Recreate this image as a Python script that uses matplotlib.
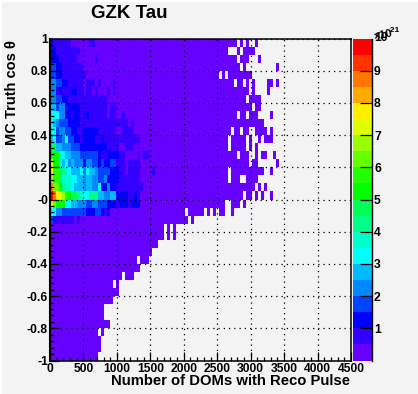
import numpy as np
import matplotlib
matplotlib.use("Agg")
import matplotlib.pyplot as plt
from matplotlib.colors import ListedColormap, BoundaryNorm
from matplotlib.patches import Rectangle
from matplotlib.ticker import MultipleLocator, FixedLocator, FixedFormatter

plt.rcParams['font.family'] = ['Liberation Sans', 'DejaVu Sans']
plt.rcParams['font.weight'] = 'bold'

TITLE = "GZK Tau"
XLABEL = "Number of DOMs with Reco Pulse"
YLABEL = "MC Truth cos \u03b8"
x_edges_range = (0, 4500)
y_edges_range = (-1, 1)
n_x = 100
n_y = 40
palette = ["#6600ff", "#3300ff", "#0000ff", "#0044ff", "#0088ff", "#00bbff", "#00ffff",
           "#00ffcc", "#00ff88", "#00ff55", "#00ff00", "#22ff00", "#66ff00", "#99ff00",
           "#ddff00", "#ffee00", "#ffaa00", "#ff7700", "#ff3300", "#ff0000"]
level_chars = "0123456789abcdefghij"
level_width = 0.5  # in units of 1e-21

# occupied bins of each row, from cos theta = 1 downward (start, end column, inclusive)
filled_runs = [
    [(0, 61), (63, 63), (65, 65), (68, 68)],
    [(0, 58), (62, 62), (64, 67)],
    [(0, 61), (63, 65), (69, 69)],
    [(0, 62), (64, 64), (75, 75)],
    [(0, 55), (57, 57), (59, 66)],
    [(0, 60), (62, 63), (65, 65), (67, 67), (72, 73), (75, 75)],
    [(0, 65), (67, 67), (72, 72)],
    [(0, 64), (66, 69)],
    [(0, 66), (68, 69)],
    [(0, 61), (63, 64), (66, 68), (73, 73)],
    [(0, 70)],
    [(0, 59), (61, 62), (64, 65), (68, 71), (73, 73)],
    [(0, 58), (60, 64), (66, 66), (69, 69), (71, 73)],
    [(0, 58), (60, 64), (66, 66), (68, 68)],
    [(0, 61), (63, 65), (68, 68), (70, 71), (74, 74)],
    [(0, 65), (67, 68), (75, 75)],
    [(0, 58), (60, 70), (73, 73)],
    [(0, 58), (60, 62), (65, 68)],
    [(0, 67), (69, 69), (71, 71)],
    [(0, 63), (65, 66), (68, 68), (70, 70), (73, 73)],
    [(0, 57), (60, 62), (64, 64)],
    [(0, 44), (46, 50), (52, 52), (54, 54), (56, 57), (60, 60)],
    [(0, 45), (47, 47)],
    [(0, 37), (39, 39), (41, 41)],
    [(0, 37), (39, 39), (41, 41)],
    [(0, 35)],
    [(0, 33)],
    [(0, 28), (30, 32)],
    [(0, 29)],
    [(0, 23), (25, 27)],
    [(0, 20), (22, 22)],
    [(0, 22)],
    [(0, 20)],
    [(0, 17)],
    [(0, 17)],
    [(0, 19)],
    [(0, 15), (17, 17)],
    [(0, 16)],
    [(0, 16)],
    [(0, 15)],
]

# colour level of the leftmost bins of each row (remaining bins are at level 0)
left_levels = [
    "2111111000000110",
    "2211111111",
    "2221111110000001",
    "33221111111",
    "332211111111",
    "4433221111101110100001",
    "4412111221101101000101",
    "4433221111111111111",
    "5534422222111111111011",
    "6664422122112111111011001",
    "6543332222" + "1111111111111" + "111" + "0" + "1",
    "6634433221" + "122222" + "111111" + "00" + "1111",
    "5633463322" + "12222" + "112" + "111111111111",
    "9955444333" + "222222222" + "1111" + "00" + "111",
    "aaa7655444" + "333333" + "2" + "11" + "2222" + "11" + "0" + "000" + "1" + "0" + "11",
    "eaa7564544" + "4" + "2" + "44" + "33" + "2" + "3" + "22" + "33" + "111" + "0" + "1111",
    "ebb9876555" + "64655" + "4" + "3333" + "222" + "11" + "0" + "1111" + "0000" + "1",
    "dbb9777665" + "545544" + "33" + "4" + "2222" + "1111111",
    "hcca877655" + "545544" + "6" + "22" + "4" + "22" + "111" + "111111",
    "jhfedba998" + "766888" + "55" + "44" + "55" + "2222" + "11" + "2" + "1",
    "ecaaa66554" + "443344" + "333" + "222" + "1" + "222" + "1" + "222",
    "66443333333322233" + "2" + "1" + "2",
    "31111111" + "01",
]

x_major = [0, 500, 1000, 1500, 2000, 2500, 3000, 3500, 4000, 4500]
y_major = [-1, -0.8, -0.6, -0.4, -0.2, 0, 0.2, 0.4, 0.6, 0.8, 1]
y_labels = ["-1", "-0.8", "-0.6", "-0.4", "-0.2", "-0", "0.2", "0.4", "0.6", "0.8", "1"]
z_ticks = [1, 2, 3, 4, 5, 6, 7, 8, 9]

W, H = 418, 394
BG = "#f3f3f3"
fig = plt.figure(figsize=(W / 100, H / 100), dpi=100, facecolor=BG)
fig.add_artist(Rectangle((0, 0), 2 / W, 1, transform=fig.transFigure, facecolor='white', edgecolor='none'))
fig.add_artist(Rectangle((0, 1 - 2 / H), 1, 2 / H, transform=fig.transFigure, facecolor='white', edgecolor='none'))


def rect(l, t, r, b):
    return [l / W, 1 - b / H, (r - l) / W, (b - t) / H]


ax = fig.add_axes(rect(50, 38.5, 351, 360.5), facecolor=BG)
cax = fig.add_axes(rect(353, 38.5, 372, 360.5), facecolor=BG)

# build the histogram from the values read above
grid = np.full((n_y, n_x), np.nan)
for r, runs in enumerate(filled_runs):
    for a, b in runs:
        grid[r, a:b + 1] = 0
for r, text in enumerate(left_levels):
    for c, ch in enumerate(text):
        if not np.isnan(grid[r, c]):
            grid[r, c] = level_chars.index(ch)
values = (grid + 0.5) * level_width

xe = np.linspace(*x_edges_range, n_x + 1)
ye = np.linspace(y_edges_range[1], y_edges_range[0], n_y + 1)
bounds = np.arange(len(palette) + 1) * level_width
cmap = ListedColormap(palette)
norm = BoundaryNorm(bounds, cmap.N)
ax.pcolormesh(xe, ye, np.ma.masked_invalid(values), cmap=cmap, norm=norm,
              antialiased=False, linewidth=0, zorder=1)

ax.set_xlim(*x_edges_range)
ax.set_ylim(*y_edges_range)
ax.set_axisbelow(False)
ax.xaxis.set_major_locator(FixedLocator(x_major))
ax.xaxis.set_minor_locator(MultipleLocator(100))
ax.yaxis.set_major_locator(FixedLocator(y_major))
ax.yaxis.set_major_formatter(FixedFormatter(y_labels))
ax.yaxis.set_minor_locator(MultipleLocator(0.04))
ax.grid(True, which='major', color='black', linewidth=0.9, linestyle=(0, (1, 3.2)), zorder=3)
ax.tick_params(which='major', direction='in', length=6.5, width=0.9, labelsize=8.7, pad=1.5,
               top=False, right=False)
ax.tick_params(which='minor', direction='in', length=3, width=0.9, top=False, right=False)
ax.tick_params(axis='x', which='major', pad=2)
for s in ax.spines.values():
    s.set_linewidth(1.1)
    s.set_zorder(5)
ax.spines['left'].set_linewidth(1.5)

fig.text(350 / W, 1 - 381 / H, XLABEL, fontsize=10.7, fontweight='bold', ha='right', va='center')
fig.text(12 / W, 1 - 93 / H, YLABEL, fontsize=10.5, fontweight='bold', rotation=90, ha='center', va='center')
fig.text(129 / W, 1 - 13.5 / H, TITLE, fontsize=13.5, fontweight='bold', ha='center', va='center')

# colour scale
cax.pcolormesh([0, 1], bounds, np.array(bounds[:-1] + level_width / 2)[:, None], cmap=cmap, norm=norm,
               antialiased=False, linewidth=0)
cax.set_xlim(0, 1)
cax.set_ylim(bounds[0], bounds[-1])
cax.xaxis.set_visible(False)
cax.yaxis.tick_right()
cax.yaxis.set_major_locator(FixedLocator(z_ticks))
cax.tick_params(axis='y', direction='in', length=8.5, width=0.9, labelsize=8.7, pad=1.5)
for s in cax.spines.values():
    s.set_linewidth(1.0)
    s.set_zorder(5)
cax.spines['left'].set_visible(False)
cax.spines['top'].set_visible(False)
cax.spines['bottom'].set_visible(False)
fig.text(374 / W, 1 - 38 / H, "10", fontsize=8.7, fontweight='bold', ha='left', va='center')
fig.text(373 / W, 1 - 35 / H, "\u00d710", fontsize=8.0, fontweight='bold', ha='left', va='center', rotation=12)
fig.text(388 / W, 1 - 30 / H, "-21", fontsize=6, fontweight='bold', ha='left', va='center')

fig.savefig("out.png", dpi=100, facecolor=BG)
